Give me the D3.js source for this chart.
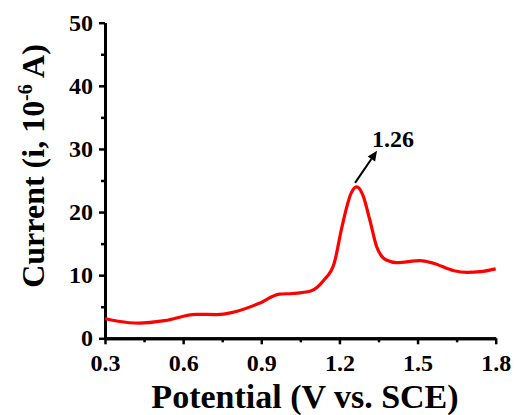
<!DOCTYPE html>
<html>
<head>
<meta charset="utf-8">
<script src="https://cdn.jsdelivr.net/npm/d3@7"></script>
</head>
<body style="margin:0;padding:0;background:#fff;">
<svg id="chart" width="516" height="415" style="display:block;background:#fff;"></svg>
<script>
// Differential pulse voltammogram: potential (V vs. SCE) against current (µA)
const potential = [0.30, 0.35, 0.43, 0.53, 0.65, 0.73, 0.79, 0.89, 0.97, 1.02, 1.09, 1.14, 1.18, 1.21, 1.245, 1.266, 1.29, 1.317, 1.343, 1.38, 1.42, 1.51, 1.56, 1.64, 1.69, 1.74, 1.80];
const current   = [3.1, 2.7, 2.4, 2.8, 3.8, 3.75, 4.1, 5.5, 7.0, 7.1, 7.5, 9.2, 11.9, 17.7, 23.0, 24.0, 22.7, 18.7, 14.5, 12.4, 12.0, 12.3, 11.9, 10.7, 10.45, 10.55, 11.0];
const xTicks = [0.3, 0.6, 0.9, 1.2, 1.5, 1.8];
const xMinorTicks = [0.45, 0.75, 1.05, 1.35, 1.65];
const yTicks = [0, 10, 20, 30, 40, 50];
const yMinorTicks = [5, 15, 25, 35, 45];
const peakPotential = 1.26;
const peakCurrent = 24.0;

const FONT = '"Liberation Serif", "Times New Roman", serif';
const svg = d3.select("#chart");
const plotLeft = 105, plotRight = 495.7, plotTop = 22.7, plotBottom = 338.3;

const x = d3.scaleLinear().domain([0.3, 1.8]).range([plotLeft, plotRight]);
const y = d3.scaleLinear().domain([0, 50]).range([plotBottom, plotTop]);

// axes with major and minor ticks
function styleAxis(g, major) {
  g.select(".domain").attr("stroke", "#000").attr("stroke-width", 3).style("stroke", "#000").style("stroke-width", "3px");
  g.selectAll(".tick line").attr("stroke", "#000").attr("stroke-width", 2.5).style("stroke", "#000").style("stroke-width", "2.5px");
  g.selectAll(".tick text")
    .style("font-family", FONT).style("font-weight", "bold")
    .style("font-size", "24px").style("fill", "#000");
}

const xMinor = svg.append("g").attr("transform", `translate(0,${plotBottom})`)
  .call(d3.axisBottom(x).tickValues(xMinorTicks).tickFormat("").tickSizeInner(4).tickSizeOuter(0));
styleAxis(xMinor);
const xAxis = svg.append("g").attr("transform", `translate(0,${plotBottom})`)
  .call(d3.axisBottom(x).tickValues(xTicks).tickFormat(d3.format(".1f")).tickSizeInner(6).tickSizeOuter(0).tickPadding(10));
styleAxis(xAxis);

const yMinor = svg.append("g").attr("transform", `translate(${plotLeft},0)`)
  .call(d3.axisLeft(y).tickValues(yMinorTicks).tickFormat("").tickSizeInner(4).tickSizeOuter(0));
styleAxis(yMinor);
const yAxis = svg.append("g").attr("transform", `translate(${plotLeft},0)`)
  .call(d3.axisLeft(y).tickValues(yTicks).tickFormat(d3.format("d")).tickSizeInner(6).tickSizeOuter(0).tickPadding(6));
styleAxis(yAxis);

// curve
const line = d3.line()
  .x((d, i) => x(potential[i]))
  .y(d => y(d))
  .curve(d3.curveMonotoneX);

svg.append("path")
  .datum(current)
  .attr("d", line)
  .attr("fill", "none")
  .attr("stroke", "#ff0000")
  .attr("stroke-width", 3.2)
  .attr("stroke-linejoin", "round");

// axis titles
svg.append("text")
  .attr("x", 305)
  .attr("y", 408)
  .attr("text-anchor", "middle")
  .style("font-family", FONT).style("font-weight", "bold")
  .style("font-size", "34px").style("fill", "#000")
  .text("Potential (V vs. SCE)");

const yTitle = svg.append("text")
  .attr("transform", "translate(44,166) rotate(-90)")
  .attr("text-anchor", "middle")
  .style("font-family", FONT).style("font-weight", "bold")
  .style("font-size", "32px").style("fill", "#000");
yTitle.append("tspan").text("Current (i, 10");
yTitle.append("tspan").attr("dy", "-12").style("font-size", "20px").text("-6");
yTitle.append("tspan").attr("dy", "12").text(" A)");

// peak annotation: arrow shaft and head
const ax0 = x(peakPotential), ay0 = y(peakCurrent) - 4;
const ax1 = ax0 + 22, ay1 = ay0 - 32;
const ang = Math.atan2(ay1 - ay0, ax1 - ax0);
const headLen = 10, headHalf = 4.5;
const bx = ax1 - headLen * Math.cos(ang), by = ay1 - headLen * Math.sin(ang);
svg.append("line")
  .attr("x1", ax0).attr("y1", ay0)
  .attr("x2", bx).attr("y2", by)
  .attr("stroke", "#000").attr("stroke-width", 2);
svg.append("path")
  .attr("d", `M${ax1},${ay1} L${bx + headHalf * Math.sin(ang)},${by - headHalf * Math.cos(ang)} L${bx - headHalf * Math.sin(ang)},${by + headHalf * Math.cos(ang)} Z`)
  .attr("fill", "#000");

svg.append("text")
  .attr("x", ax0 + 17)
  .attr("y", ay0 - 36)
  .style("font-family", FONT).style("font-weight", "bold")
  .style("font-size", "24px").style("fill", "#000")
  .text(peakPotential.toFixed(2));
</script>
</body>
</html>
